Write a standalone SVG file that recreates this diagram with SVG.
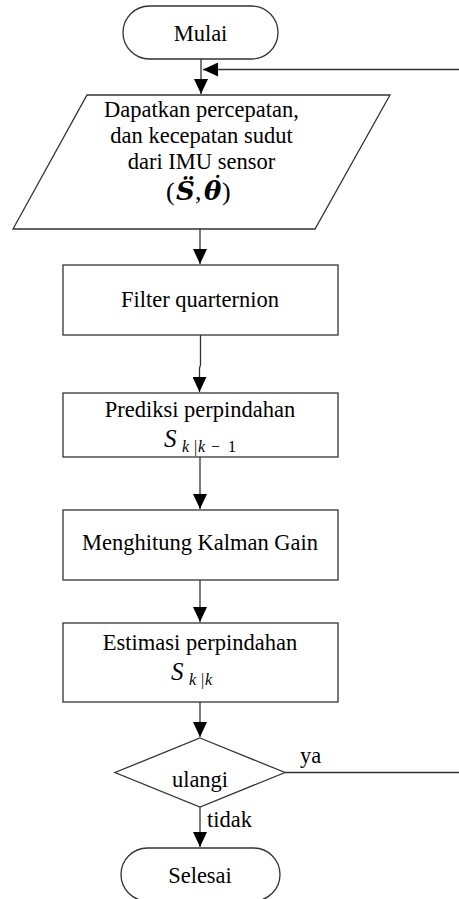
<svg xmlns="http://www.w3.org/2000/svg" width="459" height="899" viewBox="0 0 459 899">
<defs>
<style>
text{font-family:"Liberation Serif","Times New Roman",serif;fill:#000}
.t{font-size:22.5px}
.sh{fill:#fff;stroke:#333;stroke-width:1.3}
.ln{fill:none;stroke:#333;stroke-width:1.3}
.bi{font-family:"DejaVu Serif","Liberation Serif",serif;font-weight:bold;font-style:italic}
</style>
<marker id="ah" markerUnits="userSpaceOnUse" markerWidth="15" markerHeight="14" refX="15" refY="7" orient="auto">
<path d="M0,0 L15,7 L0,14 Z" fill="#000"/>
</marker>
</defs>
<rect width="459" height="899" fill="#fff"/>
<g id="connectors">
<path class="ln" d="M201,59 V94" marker-end="url(#ah)"/>
<path class="ln" d="M200,229 V264" marker-end="url(#ah)"/>
<path class="ln" d="M200.5,335 V365 L199.5,368 V392" marker-end="url(#ah)"/>
<path class="ln" d="M200,457 V509" marker-end="url(#ah)"/>
<path class="ln" d="M200,580 V622" marker-end="url(#ah)"/>
<path class="ln" d="M200,702 V737" marker-end="url(#ah)"/>
<path class="ln" d="M200,807 V847" marker-end="url(#ah)"/>
<path class="ln" d="M285,772.5 H461 V69.5 H203" marker-end="url(#ah)"/>
<text class="t" x="300" y="763">ya</text>
<text class="t" x="207" y="827">tidak</text>
</g>
<g id="mulai">
<rect class="sh" x="123" y="6" width="155" height="53" rx="26.5"/>
<text class="t" x="200.5" y="41" text-anchor="middle">Mulai</text>
</g>
<g id="input">
<polygon class="sh" points="87,95 390,95 315,229 13,229"/>
<text class="t" x="201.5" y="117" text-anchor="middle">Dapatkan percepatan,</text>
<text class="t" x="201.5" y="143" text-anchor="middle">dan kecepatan sudut</text>
<text class="t" x="201.5" y="169" text-anchor="middle">dari IMU sensor</text>
<text font-size="26" y="200"><tspan x="166">(</tspan><tspan class="bi" x="176">S̈</tspan><tspan x="195">,</tspan><tspan class="bi" x="204">θ</tspan><tspan class="bi" font-size="22" x="210.5" y="193">˙</tspan><tspan x="222" y="200">)</tspan></text>
</g>
<g id="filter">
<rect class="sh" x="63" y="265" width="275" height="70"/>
<text class="t" x="200" y="307" text-anchor="middle">Filter quarternion</text>
</g>
<g id="prediksi">
<rect class="sh" x="63" y="393" width="275" height="64"/>
<text class="t" x="200" y="417" text-anchor="middle">Prediksi perpindahan</text>
<text y="447" font-size="25" font-style="italic"><tspan x="164">S</tspan><tspan font-size="16" x="182" y="452">k</tspan><tspan font-size="16" font-style="normal" x="194">|</tspan><tspan font-size="16" x="198">k</tspan><tspan font-size="16" font-style="normal" x="211">−</tspan><tspan font-size="16" font-style="normal" x="228">1</tspan></text>
</g>
<g id="kalman">
<rect class="sh" x="63" y="510" width="275" height="70"/>
<text class="t" x="200" y="550" text-anchor="middle">Menghitung Kalman Gain</text>
</g>
<g id="estimasi">
<rect class="sh" x="63" y="623" width="275" height="79"/>
<text class="t" x="200" y="650" text-anchor="middle">Estimasi perpindahan</text>
<text y="680" font-size="25" font-style="italic"><tspan x="171">S</tspan><tspan font-size="16" x="189" y="685">k</tspan><tspan font-size="16" font-style="normal" x="201">|</tspan><tspan font-size="16" x="205">k</tspan></text>
</g>
<g id="ulangi">
<polygon class="sh" points="200,738 285,772.5 200,807 115,772.5"/>
<text class="t" x="200" y="787" text-anchor="middle">ulangi</text>
</g>
<g id="selesai">
<rect class="sh" x="121" y="848" width="159" height="53" rx="26.5"/>
<text class="t" x="200" y="883" text-anchor="middle">Selesai</text>
</g>
</svg>
